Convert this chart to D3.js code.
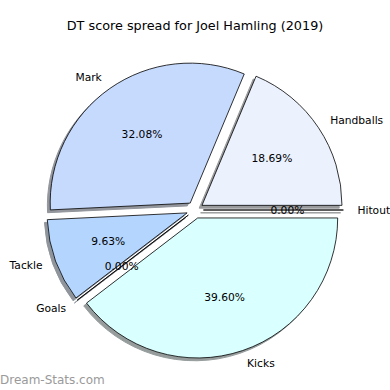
<!DOCTYPE html>
<html>
<head>
<meta charset="utf-8">
<script src="https://cdn.jsdelivr.net/npm/d3@7"></script>
<style>
html,body{margin:0;padding:0;background:#fff;}
svg{display:block;}
</style>
</head>
<body>
<svg id="chart" width="390" height="390"></svg>
<script>
const title = "DT score spread for Joel Hamling (2019)";
const categories = ["Handballs", "Mark", "Tackle", "Goals", "Kicks", "Hitout"];
const values = [18.69, 32.08, 9.63, 0.0, 39.60, 0.0];
const colors = ["#ebf2fe", "#c6dafd", "#b4d5fe", "#c8e6ff", "#d9ffff", "#e0e8f0"];
const explode = [0.06, 0.06, 0.06, 0.06, 0.06, 0.06];
const watermark = "Dream-Stats.com";

const svg = d3.select("#chart");
const cx = 195, cy = 210;
const r = d3.scaleLinear().domain([0, 1]).range([0, 140]);

svg.append("text").attr("x", 195).attr("y", 25)
  .attr("text-anchor", "middle").attr("dominant-baseline", "central")
  .style("font-family", "DejaVu Sans").style("font-size", "12.8px").attr("fill", "#000")
  .text(title);

const pie = d3.pie().sort(null).value(d => d)
  .startAngle(Math.PI / 2).endAngle(Math.PI / 2 - 2 * Math.PI);
const arcs = pie(values);
const arc = d3.arc().innerRadius(0).outerRadius(r(1));

const g = svg.append("g").attr("transform", `translate(${cx},${cy})`);

function offset(d, i, k) {
  const a = (d.startAngle + d.endAngle) / 2;
  return [Math.sin(a) * r(k), -Math.cos(a) * r(k)];
}

function dark(c) {
  const o = d3.rgb(c);
  return d3.rgb(o.r * 0.3, o.g * 0.3, o.b * 0.3).toString();
}

// shadows
arcs.forEach((d, i) => {
  const [ox, oy] = offset(d, i, explode[i]);
  g.append("path").attr("d", arc(d))
    .attr("transform", `translate(${ox - r(0.02)},${oy + r(0.02)})`)
    .attr("fill", dark(colors[i])).attr("stroke", dark(colors[i]))
    .attr("stroke-width", 1).attr("opacity", 0.55);
});

// wedges
arcs.forEach((d, i) => {
  const [ox, oy] = offset(d, i, explode[i]);
  g.append("path").attr("d", arc(d))
    .attr("transform", `translate(${ox},${oy})`)
    .attr("fill", colors[i]).attr("stroke", "#000").attr("stroke-width", 0.8)
    .attr("stroke-linejoin", "miter");
});

// labels
arcs.forEach((d, i) => {
  const [ox, oy] = offset(d, i, explode[i]);
  const [lx, ly] = offset(d, i, 1.1);
  const [px, py] = offset(d, i, 0.6);
  g.append("text").attr("x", ox + lx).attr("y", oy + ly)
    .attr("text-anchor", lx > 0 ? "start" : "end").attr("dominant-baseline", "central")
    .style("font-family", "DejaVu Sans").style("font-size", "10.7px").attr("fill", "#000")
    .text(categories[i]);
  g.append("text").attr("x", ox + px).attr("y", oy + py)
    .attr("text-anchor", "middle").attr("dominant-baseline", "central")
    .style("font-family", "DejaVu Sans").style("font-size", "10.7px").attr("fill", "#000")
    .text(values[i].toFixed(2) + "%");
});

svg.append("text").attr("x", 0).attr("y", 380)
  .attr("dominant-baseline", "central")
  .style("font-family", "DejaVu Sans").style("font-size", "12px")
  .attr("fill", "#9a9a9a").text(watermark);
</script>
</body>
</html>
